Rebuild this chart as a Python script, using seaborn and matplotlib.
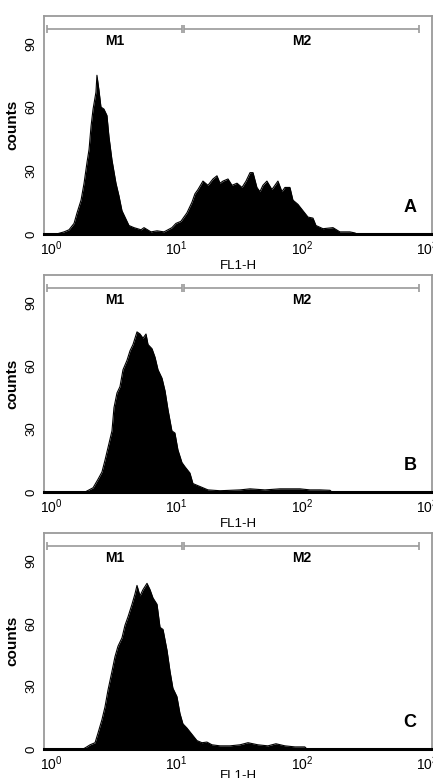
import numpy as np
import pandas as pd
import matplotlib
matplotlib.use("Agg")
import matplotlib.pyplot as plt
from matplotlib.ticker import LogLocator, FixedLocator, MultipleLocator, NullFormatter
from matplotlib.transforms import ScaledTranslation
import seaborn as sns

# ---------------- data ----------------
panel_labels = ["A", "B", "C"]
marker_names = ["M1", "M2"]
marker_ranges = [(0.84, 10.05), (10.4, 785.0)]
x_tick_values = [1, 10, 100, 1000]
x_tick_labels = [r"$10^{0}$", r"$10^{1}$", r"$10^{2}$", r"$10^{3}$"]
y_tick_values = [0, 30, 60, 90]

# log10(FL1-H) channel positions and counts
a_log = [0.00, 0.06, 0.10, 0.14, 0.164, 0.196, 0.22, 0.244, 0.26, 0.276, 0.292, 0.315,
         0.323, 0.339, 0.355, 0.379, 0.403, 0.419, 0.443, 0.475, 0.499, 0.523, 0.555,
         0.579, 0.619, 0.675, 0.699, 0.755, 0.803, 0.859, 0.922, 0.954, 0.994, 1.018,
         1.042, 1.082, 1.106, 1.130, 1.170, 1.210, 1.250, 1.282, 1.306, 1.330, 1.370,
         1.402, 1.442, 1.482, 1.514, 1.546, 1.570, 1.601, 1.625, 1.649, 1.681, 1.721,
         1.745, 1.769, 1.801, 1.825, 1.865, 1.889, 1.929, 1.969, 2.009, 2.049, 2.073,
         2.129, 2.209, 2.264, 2.344, 2.384, 2.40]
a_counts = [0, 1, 2, 5, 10, 16, 24, 34, 40, 51, 59, 67,
            75, 68, 60, 59, 56, 46, 35, 24, 18, 11, 7,
            4, 3, 2, 3, 1, 1.5, 1, 3, 5, 6, 8,
            10, 15, 19, 21, 25, 23, 26, 27.5, 24, 25, 26,
            23, 24, 22, 25, 29, 29, 22, 20, 23, 25, 21,
            23, 25, 20, 22, 22, 16, 14, 11, 8, 7.5, 4,
            2.5, 3, 1, 1, 0.5, 0]

b_log = [0.228, 0.244, 0.292, 0.331, 0.363, 0.387, 0.411, 0.443, 0.459, 0.483, 0.507,
         0.531, 0.563, 0.587, 0.611, 0.643, 0.667, 0.691, 0.715, 0.731, 0.763, 0.787,
         0.811, 0.843, 0.867, 0.891, 0.922, 0.946, 0.970, 1.002, 1.026, 1.066, 1.090,
         1.130, 1.170, 1.210, 1.306, 1.466, 1.546, 1.665, 1.785, 1.865, 1.945, 2.025,
         2.105, 2.185, 2.20]
b_counts = [0, 0.5, 2, 6, 9.5, 15, 21, 29, 40, 47, 50,
            58, 62.5, 67, 70, 76, 75, 73, 75, 70, 68, 64,
            58, 54, 48, 39, 29, 28, 20, 14, 12, 9, 4,
            3, 2, 1, 0.6, 1, 1.5, 1, 1.5, 1.5, 1.5, 1,
            1, 0.8, 0]

c_log = [0.21, 0.228, 0.268, 0.308, 0.331, 0.363, 0.387, 0.411, 0.443, 0.467, 0.491,
         0.523, 0.547, 0.571, 0.603, 0.627, 0.643, 0.667, 0.691, 0.723, 0.747, 0.771,
         0.803, 0.827, 0.851, 0.883, 0.907, 0.930, 0.962, 0.986, 1.010, 1.042, 1.082,
         1.122, 1.162, 1.202, 1.242, 1.306, 1.386, 1.466, 1.530, 1.609, 1.689, 1.753,
         1.825, 1.905, 1.984, 2.00]
c_counts = [0, 0.5, 2, 3, 7.5, 14, 20, 28, 37, 44, 49,
            53, 59, 63, 69, 74, 78, 73, 76, 79, 76, 72,
            69, 58, 57, 47, 37, 29, 25, 17, 12, 10, 7,
            4, 3, 3.3, 2, 1.5, 1.5, 2, 3, 2, 1.5, 2.5,
            1.5, 1, 1, 0]

panels = [(a_log, a_counts), (b_log, b_counts), (c_log, c_counts)]

# ---------------- style ----------------
sns.set_style("white")
plt.rcParams["font.family"] = ["Liberation Sans", "DejaVu Sans"]
plt.rcParams["mathtext.fontset"] = "custom"
plt.rcParams["mathtext.rm"] = "Liberation Sans"
plt.rcParams["mathtext.it"] = "Liberation Sans"
plt.rcParams["text.color"] = "black"
plt.rcParams["axes.labelcolor"] = "black"
plt.rcParams["xtick.labelcolor"] = "black"
plt.rcParams["ytick.labelcolor"] = "black"

GRAY = "#9a9a9a"
fig = plt.figure(figsize=(4.33, 7.78), dpi=100)

W, H = 433.0, 778.0
boxes = [(16, 234), (275, 492), (533, 749)]
left_px, right_px = 44, 432
xlabel_pads = [1, 1, -2]

for i, ((lg, cnt), (top_px, bot_px)) in enumerate(zip(panels, boxes)):
    ax = fig.add_axes([left_px / W, 1 - bot_px / H, (right_px - left_px) / W,
                       (bot_px - top_px) / H])
    df = pd.DataFrame({"FL1-H": 10 ** np.asarray(lg, dtype=float),
                       "counts": np.asarray(cnt, dtype=float)})
    ax.set_xscale("log")
    ax.fill_between(df["FL1-H"], 0, df["counts"], color="black", lw=0)
    sns.lineplot(data=df, x="FL1-H", y="counts", ax=ax, color="black", lw=0.8,
                 estimator=None, sort=False)
    ax.set_xlim(10 ** -0.1, 1000)
    ax.set_ylim(0, 103)

    # spines
    for s in ["left", "top", "right"]:
        ax.spines[s].set_color(GRAY)
        ax.spines[s].set_linewidth(1.3)
    ax.spines["bottom"].set_color("black")
    ax.spines["bottom"].set_linewidth(2.2)

    # ticks
    ax.xaxis.set_major_locator(FixedLocator(x_tick_values))
    ax.set_xticklabels(x_tick_labels)
    ax.xaxis.set_minor_locator(LogLocator(base=10, subs=np.arange(2, 10)))
    ax.xaxis.set_minor_formatter(NullFormatter())
    ax.tick_params(axis="x", which="major", direction="in", length=4, width=0.8,
                   color=GRAY, labelcolor="black", labelsize=10, pad=4)
    ax.tick_params(axis="x", which="minor", direction="in", length=2.5, width=0.6,
                   color=GRAY)
    ax.set_yticks(y_tick_values)
    ax.yaxis.set_minor_locator(MultipleLocator(6))
    ax.tick_params(axis="y", which="major", direction="out", length=3, width=0.8,
                   color=GRAY, labelcolor="black", labelsize=9.5, pad=2,
                   labelrotation=90)
    ax.tick_params(axis="y", which="minor", direction="out", length=2, width=0.6,
                   color=GRAY)
    for lbl in ax.get_yticklabels():
        lbl.set_va("center")
    off = ScaledTranslation(-5 / 100, 0, fig.dpi_scale_trans)
    for lbl in ax.get_xticklabels():
        lbl.set_transform(lbl.get_transform() + off)

    ax.set_ylabel("counts", fontsize=11, fontweight="bold", labelpad=4,
                  color="black")
    ax.set_xlabel("FL1-H", fontsize=9.5, labelpad=xlabel_pads[i], color="black")

    # marker bars
    for name, (lo, hi) in zip(marker_names, marker_ranges):
        ax.plot([lo, hi], [97, 97], color=GRAY, lw=1.2, marker="|", ms=6,
                mew=1.2, solid_capstyle="butt")
        ax.text(np.sqrt(lo * hi), 91, name, ha="center", va="center",
                fontsize=10, fontweight="bold", color="black")

    ax.text(665, 12.5, panel_labels[i], ha="center", va="center",
            fontsize=13, fontweight="bold", color="black")

fig.savefig("out.png", dpi=100)
